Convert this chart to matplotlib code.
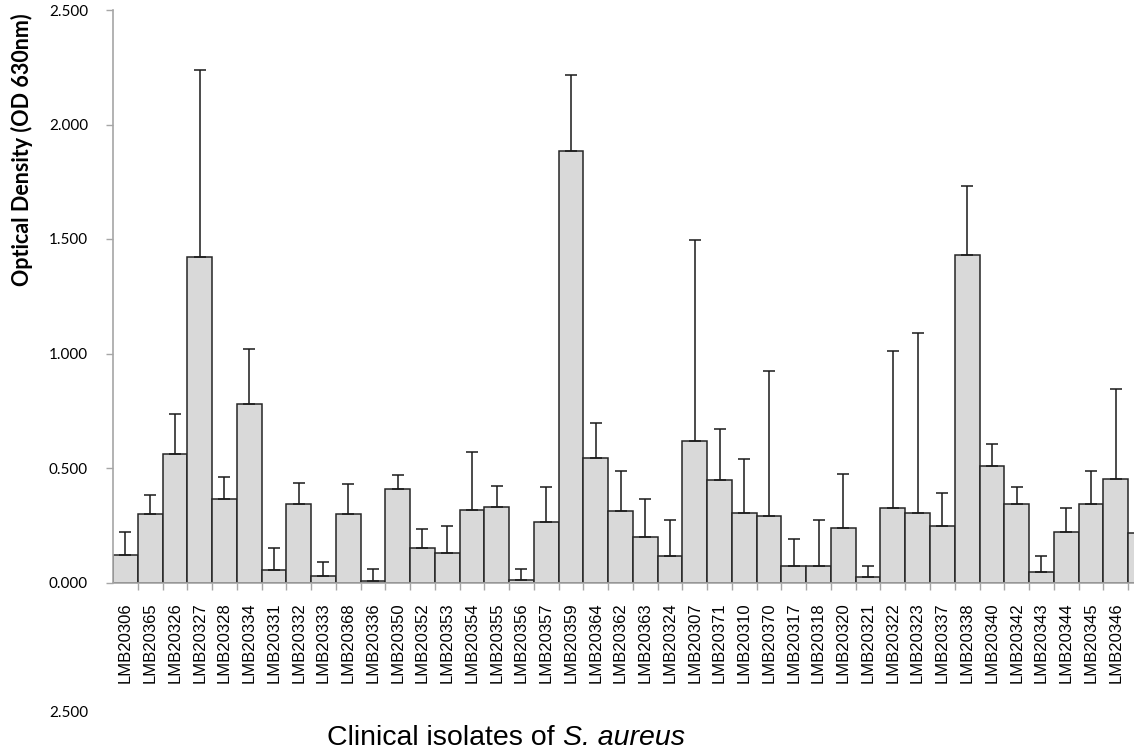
import matplotlib
matplotlib.use("Agg")
import matplotlib.pyplot as plt
import numpy as np

isolates = ["LMB20306", "LMB20365", "LMB20326", "LMB20327", "LMB20328", "LMB20334",
            "LMB20331", "LMB20332", "LMB20333", "LMB20368", "LMB20336", "LMB20350",
            "LMB20352", "LMB20353", "LMB20354", "LMB20355", "LMB20356", "LMB20357",
            "LMB20359", "LMB20364", "LMB20362", "LMB20363", "LMB20324", "LMB20307",
            "LMB20371", "LMB20310", "LMB20370", "LMB20317", "LMB20318", "LMB20320",
            "LMB20321", "LMB20322", "LMB20323", "LMB20337", "LMB20338", "LMB20340",
            "LMB20342", "LMB20343", "LMB20344", "LMB20345", "LMB20346", ""]

od_mean = [0.121, 0.298, 0.560, 1.422, 0.363, 0.780,
           0.053, 0.343, 0.030, 0.298, 0.007, 0.409,
           0.149, 0.129, 0.318, 0.331, 0.013, 0.265,
           1.886, 0.545, 0.311, 0.200, 0.114, 0.616,
           0.447, 0.305, 0.291, 0.071, 0.071, 0.240,
           0.025, 0.325, 0.305, 0.245, 1.430, 0.507,
           0.343, 0.045, 0.219, 0.343, 0.454, 0.214]

od_err_top = [0.219, 0.382, 0.735, 2.238, 0.462, 1.021,
              0.149, 0.435, 0.089, 0.429, 0.058, 0.469,
              0.235, 0.245, 0.571, 0.422, 0.058, 0.416,
              2.217, 0.695, 0.487, 0.363, 0.272, 1.495,
              0.669, 0.538, 0.924, 0.189, 0.272, 0.474,
              0.071, 1.013, 1.091, 0.389, 1.730, 0.604,
              0.416, 0.114, 0.325, 0.487, 0.846, 0.214]

yticks = [0.0, 0.5, 1.0, 1.5, 2.0, 2.5]
ytick_labels = ["0.000", "0.500", "1.000", "1.500", "2.000", "2.500"]

W, H = 1134, 755
fig = plt.figure(figsize=(W / 100, H / 100), dpi=100)
ax = fig.add_axes([113 / W, (H - 582.5) / H, 1 - 113 / W, (582.5 - 10) / H])

x = np.arange(len(od_mean))
mean = np.array(od_mean)
upper = np.array(od_err_top) - mean

ax.bar(x, mean, width=1.0, color="#d9d9d9", edgecolor="#262626", linewidth=1.1, zorder=2)
ax.errorbar(x, mean, yerr=[np.zeros_like(upper), upper], fmt="none",
            ecolor="#1a1a1a", elinewidth=1.1, capsize=4, capthick=1.1, zorder=3)

for s in ["top", "right"]:
    ax.spines[s].set_visible(False)
for s in ["left", "bottom"]:
    ax.spines[s].set_color("#a6a6a6")
    ax.spines[s].set_linewidth(1.2)

ax.set_yticks(yticks)
ax.set_yticklabels(ytick_labels, fontsize=11, family="Lato")
ax.tick_params(axis="y", direction="out", length=5, color="#a6a6a6", width=1, pad=13)

ax.set_xticks(x)
ax.set_xticklabels(isolates, rotation=90, fontsize=12, family="Liberation Sans", va="top")
ax.set_xticks(np.arange(len(od_mean)) + 0.5, minor=True)
ax.tick_params(axis="x", which="major", length=0, pad=14)
ax.tick_params(axis="x", which="minor", direction="out", length=5, color="#a6a6a6", width=1)

ax.set_xlim(-0.5, 40.74)
ax.set_ylim(0, 2.5)

fig.text(22 / W, (H - 150) / H, "Optical Density (OD 630nm)", rotation=90,
         fontsize=15.5, fontweight="bold", family="Lato", ha="center", va="center")

# x-axis title: regular part + italic species name, centred as a whole
renderer = fig.canvas.get_renderer()
t1 = fig.text(0, (H - 745) / H, "Clinical isolates of ", fontsize=20.5,
              family="Liberation Sans", ha="left", va="baseline")
t2 = fig.text(0, (H - 745) / H, "S. aureus", fontsize=20.5, style="italic",
              family="Liberation Sans", ha="left", va="baseline")
w1 = t1.get_window_extent(renderer).width
w2 = t2.get_window_extent(renderer).width
x0 = 506 - (w1 + w2) / 2
t1.set_x(x0 / W)
t2.set_x((x0 + w1) / W)

fig.text(88 / W, (H - 713) / H, "2.500", fontsize=11, family="Lato", ha="right", va="center")

fig.savefig("out.png", dpi=100)
